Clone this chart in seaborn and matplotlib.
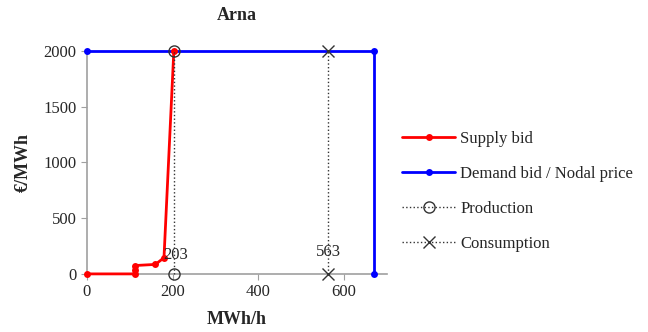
import pandas as pd
import matplotlib
matplotlib.use("Agg")
import matplotlib.pyplot as plt
import seaborn as sns

# datos
supply_x = [0, 112, 112, 112, 160, 180, 203]
supply_y = [0, 0, 35, 75, 85, 145, 2000]
demand_x = [0, 670, 670]
demand_y = [2000, 2000, 0]
prod_x = [203, 203]
prod_y = [0, 2000]
cons_x = [563, 563]
cons_y = [0, 2000]
prod_label = "203"
cons_label = "563"
x_ticks = [0, 200, 400, 600]
y_ticks = [0, 500, 1000, 1500, 2000]

sns.set_style("white")
plt.rcParams['font.family'] = ['Liberation Serif', 'DejaVu Serif']

fig = plt.figure(figsize=(6.48, 3.32), dpi=100)
ax = fig.add_axes([0.134, 0.175, 0.463, 0.672])

df_s = pd.DataFrame({'x': supply_x, 'y': supply_y})
df_d = pd.DataFrame({'x': demand_x, 'y': demand_y})
df_p = pd.DataFrame({'x': prod_x, 'y': prod_y})
df_c = pd.DataFrame({'x': cons_x, 'y': cons_y})

comun = dict(sort=False, estimator=None, errorbar=None, ax=ax, clip_on=False)

sns.lineplot(data=df_s, x='x', y='y', color='red', lw=2,
             marker='o', markersize=5, markeredgewidth=0, label='Supply bid',
             zorder=4, **comun)
sns.lineplot(data=df_d, x='x', y='y', color='blue', lw=2,
             marker='o', markersize=5, markeredgewidth=0,
             label='Demand bid / Nodal price', zorder=3, **comun)
sns.lineplot(data=df_p, x='x', y='y', color='#333333', lw=1,
             linestyle=':', marker='o', markersize=8, markerfacecolor='none',
             markeredgecolor='#333333', markeredgewidth=1,
             label='Production', zorder=5, **comun)
sns.lineplot(data=df_c, x='x', y='y', color='#333333', lw=1,
             linestyle=':', marker='x', markersize=8,
             markeredgecolor='#333333', markeredgewidth=1,
             label='Consumption', zorder=5, **comun)

ax.text(prod_x[0] - 25, 170, prod_label, fontsize=12, ha='left', va='center', zorder=6)
ax.text(cons_x[0], 200, cons_label, fontsize=12, ha='center', va='center', zorder=6)

ax.set_xlim(0, 700)
ax.set_ylim(0, 2000)
ax.set_xticks(x_ticks)
ax.set_yticks(y_ticks)
ax.tick_params(labelsize=12, length=4, color='#a0a0a0', direction='out',
               left=True, bottom=True)
for s in ['top', 'right']:
    ax.spines[s].set_visible(False)
for s in ['left', 'bottom']:
    ax.spines[s].set_color('#a0a0a0')
    ax.spines[s].set_linewidth(1.2)

ax.set_title('Arna', fontsize=13, fontweight='bold', pad=22)
ax.set_xlabel('MWh/h', fontsize=13, fontweight='bold', labelpad=8)
ax.set_ylabel('€/MWh', fontsize=13, fontweight='bold', labelpad=8)

ax.legend(loc='center left', bbox_to_anchor=(1.0, 0.37), frameon=False,
          fontsize=12, handlelength=3.2, handletextpad=0.3, labelspacing=1.15)

fig.savefig('out.png', dpi=100)
